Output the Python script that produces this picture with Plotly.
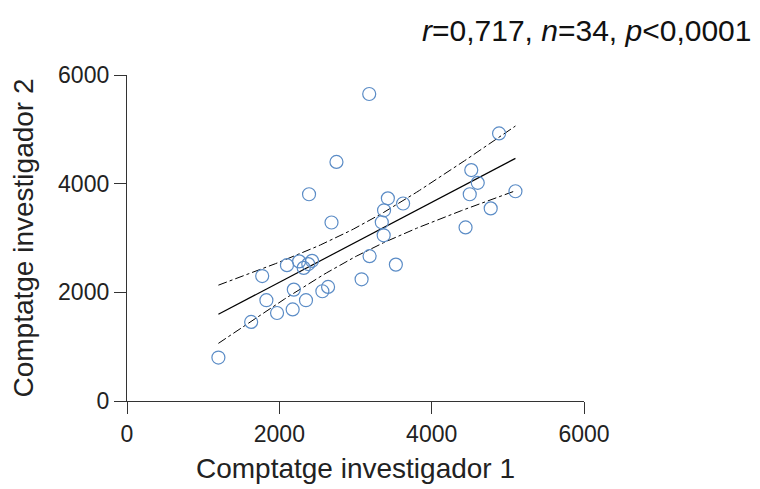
import numpy as np
import plotly.graph_objects as go

# Data
investigador_1 = [1200, 1630, 1775, 1830, 1970, 2100, 2190, 2175, 2260, 2320, 2350,
                  2430, 2565, 2640, 3080, 3185, 3530, 3370, 3345, 3375, 3425, 3625,
                  4445, 4500, 4520, 4605, 4775, 4885, 5100, 2750, 2390, 2685, 3180, 2380]
investigador_2 = [800, 1455, 2300, 1855, 1620, 2500, 2050, 1685, 2570, 2450, 1855,
                  2580, 2020, 2100, 2240, 2665, 2510, 3050, 3290, 3510, 3730, 3635,
                  3195, 3805, 4250, 4015, 3545, 4925, 3860, 4400, 3805, 3285, 5650, 2520]

tick_vals = [0, 2000, 4000, 6000]
tick_text = ["0", "2000", "4000", "6000"]
stats_text = "<i>r</i>=0,717, <i>n</i>=34, <i>p</i><0,0001"

x = np.array(investigador_1, dtype=float)
y = np.array(investigador_2, dtype=float)
n = len(x)
b, a = np.polyfit(x, y, 1)
xs = np.linspace(x.min(), x.max(), 100)
yhat = a + b * xs
resid = y - (a + b * x)
s = np.sqrt(np.sum(resid ** 2) / (n - 2))
sxx = np.sum((x - x.mean()) ** 2)
tval = 2.037
se = s * np.sqrt(1.0 / n + (xs - x.mean()) ** 2 / sxx)
upper = yhat + tval * se
lower = yhat - tval * se

fig = go.Figure()
fig.add_trace(go.Scatter(x=xs, y=upper, mode="lines",
                         line=dict(color="black", width=1, dash="dashdot"), hoverinfo="skip"))
fig.add_trace(go.Scatter(x=xs, y=lower, mode="lines",
                         line=dict(color="black", width=1, dash="dashdot"), hoverinfo="skip"))
fig.add_trace(go.Scatter(x=xs, y=yhat, mode="lines",
                         line=dict(color="black", width=1.2), hoverinfo="skip"))
fig.add_trace(go.Scatter(x=x, y=y, mode="markers",
                         marker=dict(symbol="circle-open", size=13,
                                     line=dict(color="#5b8cc6", width=1.2),
                                     color="#5b8cc6")))

axis_common = dict(
    tickvals=tick_vals, ticktext=tick_text, range=[0, 6000],
    showline=True, linecolor="#333333", linewidth=1.3,
    ticks="outside", ticklen=12, tickwidth=1.3, tickcolor="#333333",
    showgrid=False, zeroline=False, automargin=False,
    tickfont=dict(family="Liberation Sans, Arial", size=23, color="#222222"),
)
fig.update_xaxes(**axis_common,
                 title=dict(text="Comptatge investigador 1", standoff=12,
                            font=dict(family="Liberation Sans, Arial", size=28, color="#222222")))
fig.update_yaxes(**axis_common,
                 title=dict(text="Comptatge investigador 2", standoff=16,
                            font=dict(family="Liberation Sans, Arial", size=28, color="#222222")))

fig.add_annotation(text=stats_text, xref="paper", yref="paper",
                   x=1.0, y=1.0, xanchor="right", yanchor="middle",
                   showarrow=False, xshift=169, yshift=45,
                   font=dict(family="Liberation Sans, Arial", size=30, color="#111111"))

# the page adds an 8 px body margin, so the figure is sized to fill the rest
fig.update_layout(
    width=752, height=481,
    margin=dict(l=119, r=176, t=67, b=88),
    paper_bgcolor="white", plot_bgcolor="white",
    showlegend=False,
)
fig.write_html("out.html")
